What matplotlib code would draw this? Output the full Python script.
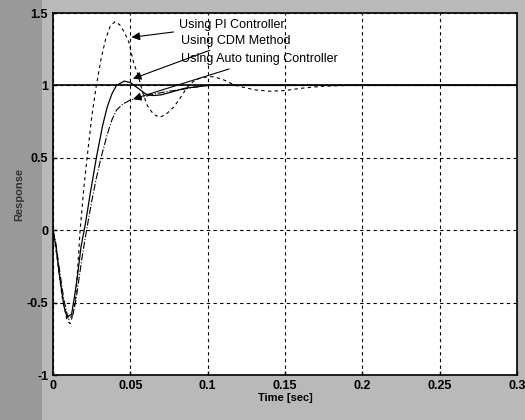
import matplotlib
matplotlib.use("Agg")
import matplotlib.pyplot as plt
from matplotlib.patches import Rectangle

plt.rcParams['font.family'] = ['Liberation Sans', 'DejaVu Sans']

# Data
t_pi = [0, 0.003, 0.006, 0.009, 0.011, 0.013, 0.015, 0.0175, 0.020, 0.022,
        0.025, 0.028, 0.031, 0.034, 0.037, 0.040, 0.043, 0.046, 0.049, 0.052,
        0.055, 0.058, 0.061, 0.065, 0.069, 0.073, 0.078, 0.082, 0.087, 0.091,
        0.095, 0.100, 0.104, 0.110, 0.118, 0.130, 0.140, 0.150, 0.160, 0.175,
        0.19, 0.21, 0.24, 0.27, 0.3]
y_pi = [0, -0.22, -0.47, -0.62, -0.645, -0.58, -0.42, 0.0, 0.3, 0.5,
        0.78, 1.0, 1.18, 1.32, 1.41, 1.44, 1.42, 1.37, 1.3, 1.16,
        1.07, 0.95, 0.86, 0.8, 0.78, 0.8, 0.85, 0.91, 0.99, 1.03,
        1.05, 1.06, 1.06, 1.04, 1.0, 0.97, 0.96, 0.965, 0.98, 0.995,
        1.0, 1.0, 1.0, 1.0, 1.0]

t_cdm = [0, 0.002, 0.004, 0.007, 0.009, 0.012, 0.014, 0.016, 0.018, 0.021,
         0.024, 0.028, 0.032, 0.035, 0.038, 0.041, 0.046, 0.050, 0.055, 0.060,
         0.065, 0.070, 0.075, 0.080, 0.085, 0.092, 0.100, 0.12, 0.15, 0.2,
         0.25, 0.3]
y_cdm = [0, -0.12, -0.3, -0.52, -0.6, -0.58, -0.45, -0.3, -0.12, 0.05,
         0.25, 0.5, 0.72, 0.85, 0.94, 1.0, 1.03, 1.02, 0.98, 0.94,
         0.93, 0.935, 0.95, 0.965, 0.98, 0.99, 1.0, 1.0, 1.0, 1.0,
         1.0, 1.0]

t_auto = [0, 0.002, 0.004, 0.007, 0.010, 0.013, 0.015, 0.017, 0.019, 0.022,
          0.025, 0.028, 0.031, 0.035, 0.038, 0.041, 0.045, 0.050, 0.055, 0.060,
          0.065, 0.070, 0.075, 0.082, 0.090, 0.100, 0.12, 0.15, 0.2, 0.25, 0.3]
y_auto = [0, -0.1, -0.26, -0.48, -0.62, -0.58, -0.47, -0.32, -0.17, 0.02,
          0.2, 0.36, 0.5, 0.66, 0.76, 0.83, 0.87, 0.9, 0.91, 0.925,
          0.94, 0.95, 0.96, 0.97, 0.985, 1.0, 1.0, 1.0, 1.0, 1.0, 1.0]

ref_t = [0, 0.3]
ref_y = [1, 1]

x_ticks = [0, 0.05, 0.1, 0.15, 0.2, 0.25, 0.3]
x_labels = ['0', '0.05', '0.1', '0.15', '0.2', '0.25', '0.3']
y_ticks = [-1, -0.5, 0, 0.5, 1, 1.5]
y_labels = ['-1', '-0.5', '0', '0.5', '1', '1.5']

fig = plt.figure(figsize=(5.25, 4.2), dpi=100, facecolor='#b9b9b9')
# darker scanned strip on the left, kept behind everything
fig.add_artist(Rectangle((0, 0), 0.08, 1, transform=fig.transFigure,
                         facecolor='#999999', edgecolor='none', zorder=-10))
ax = fig.add_axes([0.101, 0.107, 0.884, 0.862])
ax.set_facecolor('white')

ax.plot(ref_t, ref_y, color='black', lw=1.2)
ax.plot(t_pi, y_pi, color='black', lw=0.8, linestyle=(0, (3, 3)))
ax.plot(t_cdm, y_cdm, color='black', lw=0.9)
ax.plot(t_auto, y_auto, color='black', lw=0.8, linestyle='-.')

ax.set_xlim(0, 0.3)
ax.set_ylim(-1, 1.5)
ax.set_xticks(x_ticks)
ax.set_xticklabels(x_labels)
ax.set_yticks(y_ticks)
ax.set_yticklabels(y_labels)
ax.tick_params(direction='in', length=3, labelsize=9, width=1)
for lab in ax.get_xticklabels() + ax.get_yticklabels():
    lab.set_fontweight('bold')
ax.grid(True, color='black', linestyle=(0, (3, 3)), lw=0.8)
for s in ax.spines.values():
    s.set_linewidth(1.2)

ax.set_xlabel('Time [sec]', fontsize=8, fontweight='bold', labelpad=1)
ax.set_ylabel('Response', fontsize=8, fontweight='bold', color='#333333', labelpad=2)

arrow = dict(arrowstyle='-|>', color='black', lw=0.8, mutation_scale=12)
ax.annotate('Using PI Controller', xy=(0.049, 1.33), xytext=(0.0815, 1.42),
            fontsize=9, ha='left', va='center', arrowprops=arrow)
ax.annotate('Using CDM Method', xy=(0.05, 1.04), xytext=(0.083, 1.31),
            fontsize=9, ha='left', va='center', arrowprops=arrow)
ax.annotate('Using Auto tuning Controller', xy=(0.05, 0.9), xytext=(0.083, 1.18),
            fontsize=9, ha='left', va='center', arrowprops=arrow)

fig.savefig('out.png', dpi=100, facecolor=fig.get_facecolor())
